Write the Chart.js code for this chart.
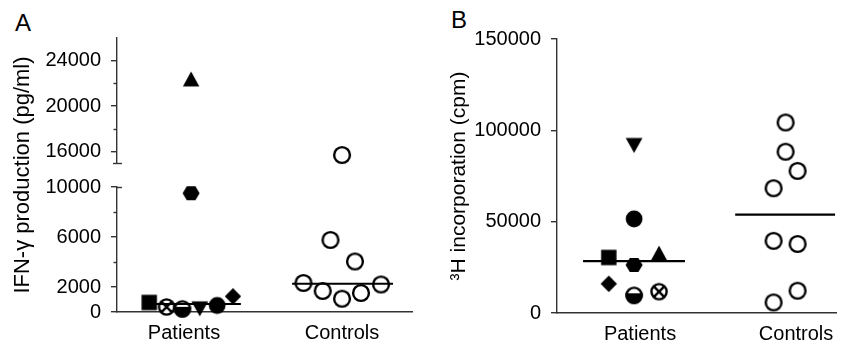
<!DOCTYPE html>
<html>
<head>
<meta charset="utf-8">
<script src="https://cdn.jsdelivr.net/npm/chart.js@4.4.1/dist/chart.umd.min.js"></script>
<style>
html,body{margin:0;padding:0;background:#fff;}
body{width:850px;height:344px;position:relative;overflow:hidden;font-family:"Liberation Sans",Arial,sans-serif;}
.wrap{position:absolute;top:0;height:344px;}
#wa{left:0;width:425px;}
#wb{left:430px;width:420px;}
.panel{position:absolute;font-size:24px;line-height:24px;color:#000;}
</style>
</head>
<body>
<div class="panel" style="left:15px;top:11px">A</div>
<div class="panel" style="left:451px;top:8px">B</div>
<div class="wrap" id="wa"><canvas id="ca" width="425" height="344"></canvas></div>
<div class="wrap" id="wb"><canvas id="cb" width="420" height="344"></canvas></div>
<script>
// ---------- data ----------
const groups = ['Patients', 'Controls'];
const patientMarkers = ['square', 'crossCircle', 'halfCircle', 'triDown', 'circle', 'diamond', 'hexagon', 'triUp'];
const controlMarkers = ['open', 'open', 'open', 'open', 'open', 'open', 'open', 'open'];

// Panel A: IFN-gamma production (pg/ml)
const ifnPatients = [760, 400, 250, 250, 520, 1250, 9500, 22400];
const ifnControls = [15700, 5760, 4040, 2320, 1680, 1060, 1520, 2200];
const ifnLowTicks = [0, 2000, 6000, 10000];
const ifnLowMinor = [4000, 8000];
const ifnHighTicks = [16000, 20000, 24000];
const ifnHighMinor = [18000, 22000];

// Panel B: 3H incorporation (cpm)
const thyPatients = [30400, 11700, 9700, 91700, 51500, 16000, 26300, 32800];
const thyControls = [104300, 88300, 77800, 68300, 39500, 37800, 12200, 5800];
const thyTicks = [0, 50000, 100000, 150000];

// ---------- layout (horizontal spread of the dots around each group) ----------
const jitterAPat = [-0.22, -0.11, -0.01, 0.10, 0.21, 0.31, 0.045, 0.045];
const jitterACon = [0, -0.073, 0.082, -0.244, -0.122, 0, 0.12, 0.247];
const jitterBPat = [-0.2, 0.122, -0.038, -0.038, -0.038, -0.2, -0.038, 0.122];
const jitterBCon = [-0.067, -0.067, 0.01, -0.144, -0.144, 0.01, 0.01, -0.144];
const medExtAPat = [-0.247, 0.36], medExtACon = [-0.316, 0.323];
const medExtBPat = [-0.365, 0.288], medExtBCon = [-0.39, 0.25];

const FONT = '"Liberation Sans", Arial, sans-serif';
const AXIS = '#333';
Chart.defaults.font.family = FONT;
Chart.defaults.color = '#000';

// ---------- markers ----------
function makeMarker(kind) {
  const c = document.createElement('canvas');
  c.width = 22; c.height = 22;
  const g = c.getContext('2d');
  g.translate(11, 11);
  g.fillStyle = '#000'; g.strokeStyle = '#000'; g.lineWidth = 2.4;
  const poly = pts => { g.beginPath(); pts.forEach((p, i) => i ? g.lineTo(p[0], p[1]) : g.moveTo(p[0], p[1])); g.closePath(); g.fill(); };
  const ring = r => { g.beginPath(); g.arc(0, 0, r, 0, Math.PI * 2); g.fillStyle = '#fff'; g.fill(); g.fillStyle = '#000'; g.stroke(); };
  switch (kind) {
    case 'square': g.fillRect(-7.7, -7.7, 15.4, 15.4); break;
    case 'circle': g.beginPath(); g.arc(0, 0, 8.4, 0, Math.PI * 2); g.fill(); break;
    case 'triUp': poly([[0, -7.4], [8.2, 7.4], [-8.2, 7.4]]); break;
    case 'triDown': poly([[0, 7.6], [8.4, -7.6], [-8.4, -7.6]]); break;
    case 'diamond': poly([[0, -8.2], [8.2, 0], [0, 8.2], [-8.2, 0]]); break;
    case 'hexagon': poly([[8.5, 0], [4.3, 7], [-4.3, 7], [-8.5, 0], [-4.3, -7], [4.3, -7]]); break;
    case 'open': ring(7.9); break;
    case 'crossCircle':
      ring(7.6);
      g.beginPath(); g.moveTo(-5.3, -5.3); g.lineTo(5.3, 5.3); g.moveTo(5.3, -5.3); g.lineTo(-5.3, 5.3); g.stroke();
      break;
    case 'halfCircle':
      ring(7.6);
      g.beginPath(); g.arc(0, 0, 7.6, -0.12, Math.PI + 0.12); g.closePath(); g.fill(); g.stroke();
      break;
  }
  return c;
}
const markerImg = {};
['square', 'circle', 'triUp', 'triDown', 'diamond', 'hexagon', 'open', 'crossCircle', 'halfCircle'].forEach(k => markerImg[k] = makeMarker(k));

// ---------- helpers ----------
function median(arr) {
  const s = [...arr].sort((a, b) => a - b);
  const n = s.length;
  return n % 2 ? s[(n - 1) / 2] : (s[n / 2 - 1] + s[n / 2]) / 2;
}
function points(values, gi, jit, markers, keep) {
  return values.map((v, i) => ({x: gi + 1 + jit[i], y: v, m: markers[i]})).filter(p => keep(p.y));
}
function dotSet(data, axis) {
  return {data, yAxisID: axis, pointStyle: c => markerImg[c.raw.m], pointRadius: 8, pointHoverRadius: 8,
          showLine: false, clip: false, order: 2};
}
function medianSet(values, gi, ext, axis) {
  const m = median(values);
  return {data: [{x: gi + 1 + ext[0], y: m}, {x: gi + 1 + ext[1], y: m}], yAxisID: axis,
          showLine: true, borderColor: '#000', borderWidth: 2.2, pointRadius: 0, clip: false, order: 0};
}
const tickFont = {size: 20, family: FONT};
function xScale(min, max, h) {
  return {type: 'linear', min, max,
    afterBuildTicks: s => { s.ticks = groups.map((g, i) => ({value: i + 1})); },
    ticks: {font: tickFont, color: '#000', padding: 9, autoSkip: false, maxRotation: 0, callback: v => groups[v - 1]},
    grid: {display: false, drawTicks: false, tickLength: 0}, border: {color: AXIS, width: 1.4},
    afterFit: s => { s.height = h; }};
}
function yScale(min, max, tickVals, w, extra) {
  return Object.assign({type: 'linear', position: 'left', min, max,
    afterBuildTicks: s => { s.ticks = tickVals.map(v => ({value: v})); },
    ticks: {font: tickFont, color: '#000', padding: 10, autoSkip: false, callback: v => String(v)},
    grid: {drawOnChartArea: false, tickLength: 6, color: AXIS, lineWidth: 1.4},
    border: {color: AXIS, width: 1.4},
    afterFit: s => { s.width = w; }}, extra || {});
}

// plugin: minor ticks and the little caps at the axis break
const axisMarks = {
  id: 'axisMarks',
  afterDraw(chart, args, opts) {
    const ctx = chart.ctx, x = chart.chartArea.left;
    ctx.save();
    ctx.strokeStyle = AXIS; ctx.lineWidth = 1.4;
    (opts.minor || []).forEach(([id, v]) => {
      const y = Math.round(chart.scales[id].getPixelForValue(v)) + 0.5;
      ctx.beginPath(); ctx.moveTo(x - 3.5, y); ctx.lineTo(x, y); ctx.stroke();
    });
    (opts.caps || []).forEach(([id, v, l, r]) => {
      const y = Math.round(chart.scales[id].getPixelForValue(v)) + 0.5;
      ctx.beginPath(); ctx.moveTo(x - l, y); ctx.lineTo(x + r, y); ctx.stroke();
    });
    ctx.restore();
  }
};

const commonOpts = {responsive: false, animation: false, events: [],
  plugins: {legend: {display: false}, tooltip: {enabled: false}}};

// ---------- Panel A ----------
const low = v => v <= 10000, high = v => v >= 15000;
new Chart(document.getElementById('ca'), {
  type: 'scatter',
  data: {datasets: [
    medianSet(ifnPatients, 0, medExtAPat, 'yBot'),
    medianSet(ifnControls, 1, medExtACon, 'yBot'),
    dotSet(points(ifnPatients, 0, jitterAPat, patientMarkers, low), 'yBot'),
    dotSet(points(ifnPatients, 0, jitterAPat, patientMarkers, high), 'yTop'),
    dotSet(points(ifnControls, 1, jitterACon, controlMarkers, low), 'yBot'),
    dotSet(points(ifnControls, 1, jitterACon, controlMarkers, high), 'yTop')
  ]},
  options: Object.assign({}, commonOpts, {
    layout: {padding: {top: 38, right: 13, left: 0, bottom: 0}},
    plugins: Object.assign({}, commonOpts.plugins, {
      axisMarks: {
        minor: ifnLowMinor.map(v => ['yBot', v]).concat(ifnHighMinor.map(v => ['yTop', v])),
        caps: [['yTop', 15000, 4, 5], ['yBot', 10000, 0, 5]]
      }
    }),
    scales: {
      x: xScale(0.576, 2.443, 32),
      yBot: yScale(0, 10000, ifnLowTicks, 117, {stack: 'ifn', stackWeight: 125, weight: 1}),
      yGap: {type: 'linear', position: 'left', stack: 'ifn', stackWeight: 24, weight: 2,
        ticks: {display: false}, grid: {display: false}, border: {display: false},
        title: {display: true, text: 'IFN-γ production (pg/ml)', font: {size: 22, family: FONT}, color: '#000', padding: {top: 10, bottom: 0}},
        afterFit: s => { s.width = 117; }},
      yTop: yScale(15000, 26000, ifnHighTicks, 117, {stack: 'ifn', stackWeight: 125, weight: 3})
    }
  }),
  plugins: [axisMarks]
});

// ---------- Panel B ----------
new Chart(document.getElementById('cb'), {
  type: 'scatter',
  data: {datasets: [
    medianSet(thyPatients, 0, medExtBPat, 'y'),
    medianSet(thyControls, 1, medExtBCon, 'y'),
    dotSet(points(thyPatients, 0, jitterBPat, patientMarkers, () => true), 'y'),
    dotSet(points(thyControls, 1, jitterBCon, controlMarkers, () => true), 'y')
  ]},
  options: Object.assign({}, commonOpts, {
    layout: {padding: {top: 39, right: 14, left: 0, bottom: 0}},
    scales: {
      x: xScale(0.468, 2.256, 31),
      y: yScale(0, 150000, thyTicks, 127, {
        title: {display: true, text: '³H incorporation (cpm)', font: {size: 21, family: FONT}, color: '#000', padding: {top: 17, bottom: 0}}
      })
    }
  })
});
</script>
</body>
</html>
